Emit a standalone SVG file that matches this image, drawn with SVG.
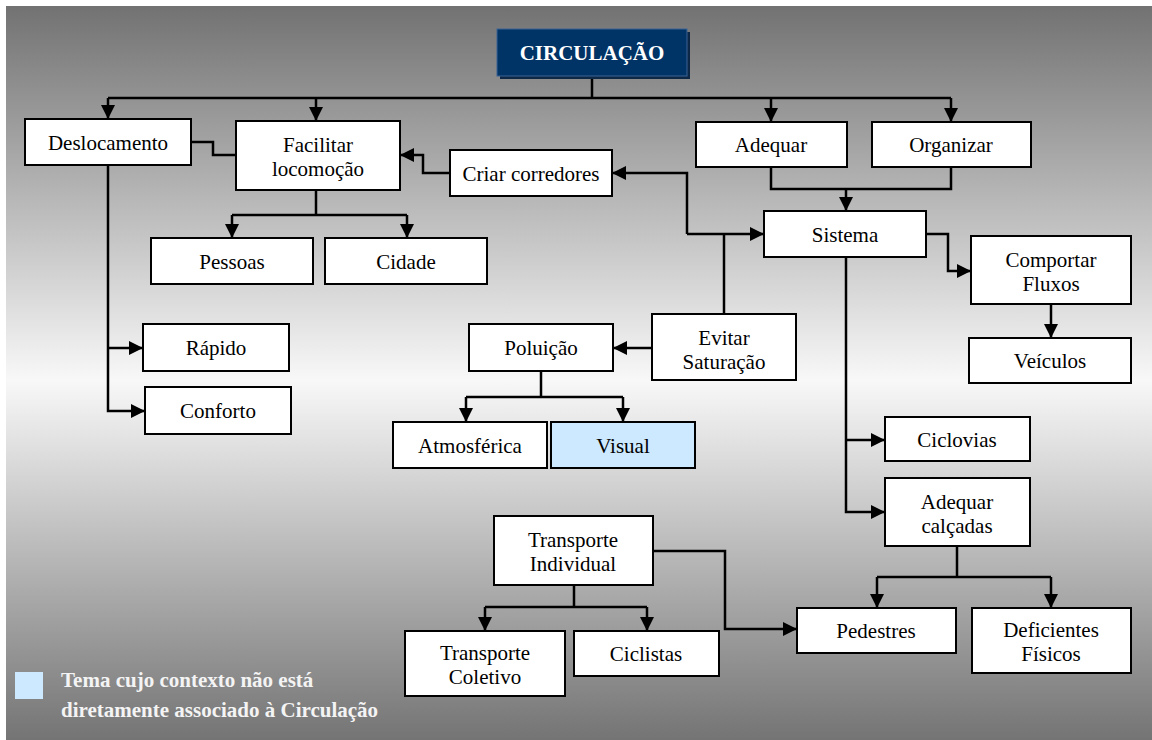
<svg xmlns="http://www.w3.org/2000/svg" width="1152" height="740" viewBox="0 0 1152 740">
<defs>
<linearGradient id="bg" x1="0" y1="0" x2="0" y2="1">
<stop offset="0" stop-color="#727272"/>
<stop offset="0.51" stop-color="#f8f8f8"/>
<stop offset="1" stop-color="#747474"/>
</linearGradient>
<marker id="ah" markerUnits="userSpaceOnUse" markerWidth="14" markerHeight="14" viewBox="0 0 14 14" refX="14" refY="7" orient="auto">
<path d="M0,0 L14,7 L0,14 z" fill="#000"/>
</marker>
<style>
.n rect{fill:#fff;stroke:#000;stroke-width:2}
.n text{font-family:"Liberation Serif","Times New Roman",serif;font-size:21px;fill:#000;text-anchor:middle}
.c path{fill:none;stroke:#000;stroke-width:2.5}
.a{marker-end:url(#ah)}
.lg{font-family:"Liberation Serif","Times New Roman",serif;font-size:21px;font-weight:bold;fill:#f4f4f4}
</style>
</defs>
<rect x="0" y="0" width="1152" height="740" fill="#fff"/>
<rect x="6" y="6" width="1146" height="734" fill="url(#bg)"/>

<g class="c" id="connectors">
<path d="M592,76 V98 M108,98 H951"/>
<path class="a" d="M108,98 V119"/>
<path class="a" d="M316,98 V121"/>
<path class="a" d="M771,98 V122"/>
<path class="a" d="M951,98 V122"/>
<path d="M191,142 H213 V155 H236"/>
<path d="M316,190 V215 M232,215 H407"/>
<path class="a" d="M232,215 V238"/>
<path class="a" d="M407,215 V238"/>
<path class="a" d="M450,173 H423 V155 H400"/>
<path class="a" d="M687,234 V173 H612"/>
<path class="a" d="M687,234 H764"/>
<path d="M724,314 V234"/>
<path d="M771,167 V189 H951 V167"/>
<path class="a" d="M846,189 V211"/>
<path class="a" d="M926,234 H948 V271 H971"/>
<path class="a" d="M1051,304 V338"/>
<path class="a" d="M846,257 V512 H885"/>
<path class="a" d="M846,440 H885"/>
<path d="M957,546 V577 M877,577 H1051"/>
<path class="a" d="M877,577 V608"/>
<path class="a" d="M1051,577 V608"/>
<path class="a" d="M653,551 H725 V629 H797"/>
<path d="M574,585 V607 M485,607 H647"/>
<path class="a" d="M485,607 V631"/>
<path class="a" d="M647,607 V631"/>
<path class="a" d="M652,348 H613"/>
<path d="M541,371 V397 M466,397 H623"/>
<path class="a" d="M466,397 V422"/>
<path class="a" d="M623,397 V422"/>
<path class="a" d="M108,165 V411 H145"/>
<path class="a" d="M108,348 H143"/>
</g>

<g id="circulacao">
<rect x="500" y="32" width="190" height="47" fill="#0d2747"/>
<rect x="497" y="29" width="190" height="47" fill="#003366" stroke="#3a6594" stroke-width="1"/>
<text x="592" y="60" font-family="Liberation Serif, Times New Roman, serif" font-size="21" font-weight="bold" fill="#fff" text-anchor="middle">CIRCULAÇÃO</text>
</g>
<g class="n" id="deslocamento"><rect x="25" y="119" width="166" height="46"/><text x="108" y="150">Deslocamento</text></g>
<g class="n" id="facilitar"><rect x="236" y="121" width="164" height="69"/><text x="318" y="152">Facilitar</text><text x="318" y="176">locomoção</text></g>
<g class="n" id="criar"><rect x="450" y="150" width="162" height="46"/><text x="531" y="181">Criar corredores</text></g>
<g class="n" id="pessoas"><rect x="151" y="238" width="162" height="46"/><text x="232" y="269">Pessoas</text></g>
<g class="n" id="cidade"><rect x="325" y="238" width="162" height="46"/><text x="406" y="269">Cidade</text></g>
<g class="n" id="adequar"><rect x="696" y="122" width="151" height="45"/><text x="771" y="152">Adequar</text></g>
<g class="n" id="organizar"><rect x="872" y="122" width="159" height="45"/><text x="951" y="152">Organizar</text></g>
<g class="n" id="sistema"><rect x="764" y="211" width="162" height="46"/><text x="845" y="242">Sistema</text></g>
<g class="n" id="comportar"><rect x="971" y="236" width="160" height="68"/><text x="1051" y="267">Comportar</text><text x="1051" y="291">Fluxos</text></g>
<g class="n" id="veiculos"><rect x="969" y="338" width="162" height="45"/><text x="1050" y="368">Veículos</text></g>
<g class="n" id="rapido"><rect x="143" y="324" width="146" height="47"/><text x="216" y="355">Rápido</text></g>
<g class="n" id="conforto"><rect x="145" y="387" width="146" height="47"/><text x="218" y="418">Conforto</text></g>
<g class="n" id="poluicao"><rect x="469" y="324" width="144" height="47"/><text x="541" y="355">Poluição</text></g>
<g class="n" id="evitar"><rect x="652" y="314" width="144" height="66"/><text x="724" y="345">Evitar</text><text x="724" y="369">Saturação</text></g>
<g class="n" id="atmosferica"><rect x="393" y="422" width="154" height="46"/><text x="470" y="453">Atmosférica</text></g>
<g class="n" id="visual"><rect x="551" y="422" width="144" height="46" style="fill:#cce9ff"/><text x="623" y="453">Visual</text></g>
<g class="n" id="ciclovias"><rect x="885" y="417" width="145" height="44"/><text x="957" y="447">Ciclovias</text></g>
<g class="n" id="calcadas"><rect x="885" y="478" width="145" height="68"/><text x="957" y="509">Adequar</text><text x="957" y="533">calçadas</text></g>
<g class="n" id="pedestres"><rect x="797" y="608" width="159" height="45"/><text x="876" y="638">Pedestres</text></g>
<g class="n" id="deficientes"><rect x="972" y="608" width="159" height="65"/><text x="1051" y="637">Deficientes</text><text x="1051" y="661">Físicos</text></g>
<g class="n" id="individual"><rect x="494" y="516" width="159" height="69"/><text x="573" y="547">Transporte</text><text x="573" y="571">Individual</text></g>
<g class="n" id="coletivo"><rect x="405" y="631" width="160" height="65"/><text x="485" y="660">Transporte</text><text x="485" y="684">Coletivo</text></g>
<g class="n" id="ciclistas"><rect x="574" y="631" width="145" height="45"/><text x="646" y="661">Ciclistas</text></g>

<g id="legend">
<rect x="15" y="672" width="28" height="27" fill="#cce9ff"/>
<text class="lg" x="61" y="687">Tema cujo contexto não está</text>
<text class="lg" x="61" y="717">diretamente associado à Circulação</text>
</g>
</svg>
